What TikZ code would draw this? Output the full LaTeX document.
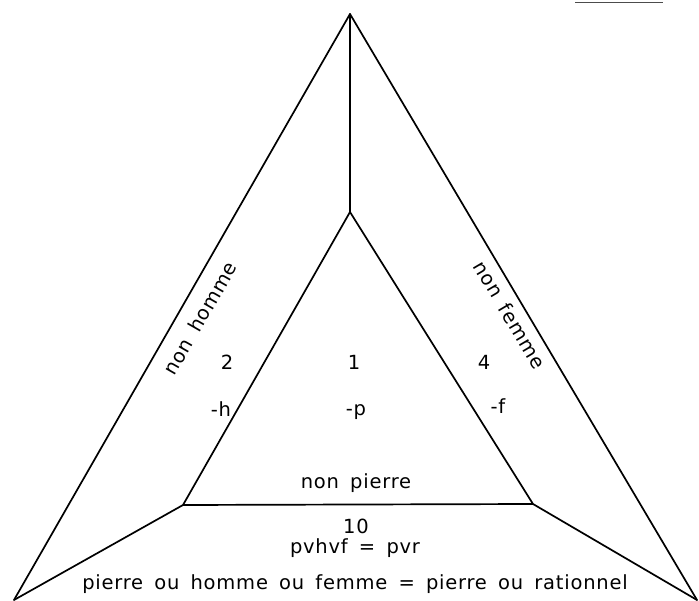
\documentclass[tikz,border=0pt]{standalone}
\usepackage{fontspec}
\setmainfont{DejaVu Sans}[LetterSpace=4,WordSpace=1.6]
\begin{document}
\begin{tikzpicture}[x=1pt,y=-1pt,
  edge/.style={line width=1.7pt, line join=round, line cap=round},
  lab/.style={font=\fontsize{19.5}{22}\selectfont, inner sep=0pt},
  scanline/.style={line width=1pt, draw=black!70}]
\useasboundingbox (0,0) rectangle (699,601);
% vertices
\coordinate (T) at (350,14);
\coordinate (L) at (14,600);
\coordinate (R) at (697,600);
\coordinate (t) at (350,212);
\coordinate (l) at (183,505);
\coordinate (r) at (533,504);
\coordinate (s1) at (575,3);
\coordinate (s2) at (663,3);
% outer and connecting lines
\draw[edge] (L) -- (T) -- (R);
\draw[edge] (T) -- (t);
\draw[edge] (l) -- (L);
\draw[edge] (r) -- (R);
% inner triangle
\draw[edge] (t) -- (l) -- (r) -- cycle;
\draw[scanline] (s1) -- (s2);
% labels
\node[lab, rotate=60.2] (nh) at (200,318) {non homme};
\node[lab, rotate=-59.4] (nf) at (510,315) {non femme};
\node[lab, anchor=base] (n2) at (227,370) {2};
\node[lab, anchor=base] (n1) at (354,370) {1};
\node[lab, anchor=base] (n4) at (484,370) {4};
\node[lab, anchor=base] (mh) at (221,417) {-h};
\node[lab, anchor=base] (mp) at (356,416) {-p};
\node[lab, anchor=base] (mf) at (498,414) {-f};
\node[lab, anchor=base] (np) at (356,488) {non pierre};
\node[lab, anchor=base] (n10) at (356,533) {10};
\node[lab, anchor=base] (eq) at (355,553) {pvhvf = pvr};
\node[lab, anchor=base] (bot) at (355,589) {pierre ou homme ou femme = pierre ou rationnel};
\end{tikzpicture}
\end{document}
